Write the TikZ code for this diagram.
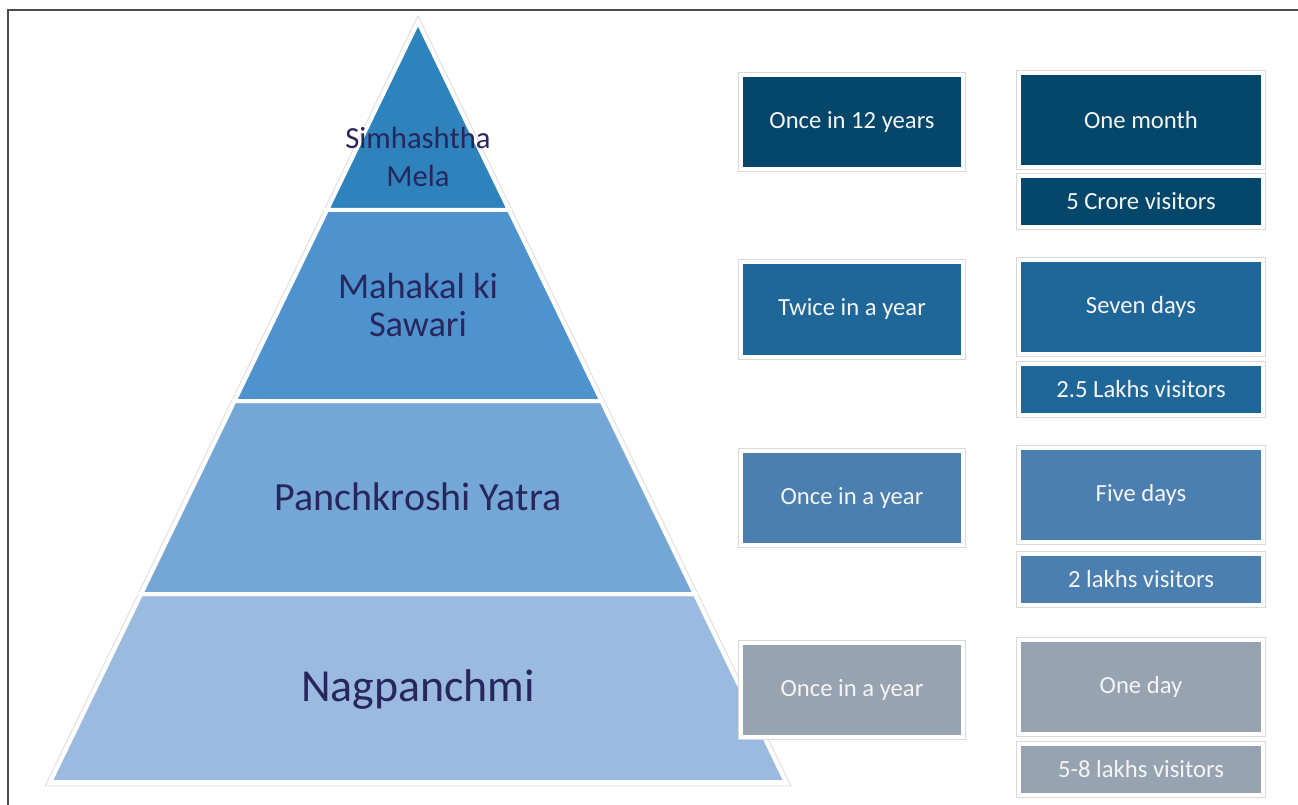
\documentclass[tikz,border=0pt]{standalone}
\usepackage{fontspec}
\setmainfont{Carlito}
\definecolor{bandone}{HTML}{2E83BD}
\definecolor{bandtwo}{HTML}{4E93CE}
\definecolor{bandthree}{HTML}{74A7D6}
\definecolor{bandfour}{HTML}{9ABBDF}
\definecolor{labelink}{HTML}{28265C}
\definecolor{rowone}{HTML}{04476A}
\definecolor{rowtwo}{HTML}{1F6699}
\definecolor{rowthree}{HTML}{4A7FAF}
\definecolor{rowfour}{HTML}{97A3B0}
\tikzset{
  band/.style = {draw=white, line width=3pt, line join=miter},
  bandlabel/.style = {text=labelink, align=center},
  infobox/.style = {
    preaction={draw=black!15, line width=4.5pt},
    draw=white, line width=3pt, text=white!96!black,
    inner sep=0pt, font=\fontsize{18.5}{22}\selectfont
  },
  freqbox/.style = {infobox, minimum width=166.5pt, minimum height=70.5pt},
  durbox/.style = {infobox, minimum width=183pt, minimum height=70.5pt},
  visbox/.style = {infobox, minimum width=183pt, minimum height=38.25pt}
}

\begin{document}
\begin{tikzpicture}[x=0.75pt,y=-0.75pt]
  \useasboundingbox (0,0) rectangle (1298,805);
  \pgfmathsetmacro{\apexx}{418};
  \pgfmathsetmacro{\apexy}{22};
  \pgfmathsetmacro{\slope}{0.484};
  \pgfmathsetmacro{\cutone}{210};
  \pgfmathsetmacro{\cuttwo}{401};
  \pgfmathsetmacro{\cutthree}{594};
  \pgfmathsetmacro{\basey}{782};
  % frame
  \draw[black!70, line width=1.1pt] (8,805) -- (8,10) -- (1298,10);
  % faint outline of the pyramid
  \draw[black!15, line width=0.6pt] (\apexx,{\apexy-6}) -- ({\apexx-\slope*(\basey-\apexy)-5},{\basey+4}) -- ({\apexx+\slope*(\basey-\apexy)+5},{\basey+4}) -- cycle;
  % pyramid bands
  \fill[bandfour, band] ({\apexx-\slope*(\cutthree-\apexy)},\cutthree) -- ({\apexx+\slope*(\cutthree-\apexy)},\cutthree) -- ({\apexx+\slope*(\basey-\apexy)},\basey) -- ({\apexx-\slope*(\basey-\apexy)},\basey) -- cycle;
  \fill[bandthree, band] ({\apexx-\slope*(\cuttwo-\apexy)},\cuttwo) -- ({\apexx+\slope*(\cuttwo-\apexy)},\cuttwo) -- ({\apexx+\slope*(\cutthree-\apexy)},\cutthree) -- ({\apexx-\slope*(\cutthree-\apexy)},\cutthree) -- cycle;
  \fill[bandtwo, band] ({\apexx-\slope*(\cutone-\apexy)},\cutone) -- ({\apexx+\slope*(\cutone-\apexy)},\cutone) -- ({\apexx+\slope*(\cuttwo-\apexy)},\cuttwo) -- ({\apexx-\slope*(\cuttwo-\apexy)},\cuttwo) -- cycle;
  \fill[bandone, band] (\apexx,\apexy) -- ({\apexx+\slope*(\cutone-\apexy)},\cutone) -- ({\apexx-\slope*(\cutone-\apexy)},\cutone) -- cycle;
  \draw[white, line width=3pt] ({\apexx-\slope*(\cutone-\apexy)-3},\cutone) -- ({\apexx+\slope*(\cutone-\apexy)+3},\cutone);
  \draw[white, line width=3pt] ({\apexx-\slope*(\cuttwo-\apexy)-3},\cuttwo) -- ({\apexx+\slope*(\cuttwo-\apexy)+3},\cuttwo);
  \draw[white, line width=3pt] ({\apexx-\slope*(\cutthree-\apexy)-3},\cutthree) -- ({\apexx+\slope*(\cutthree-\apexy)+3},\cutthree);
  \node[bandlabel, font=\fontsize{23}{28.5}\selectfont] (simha) at (\apexx,157) {Simhashtha\\Mela};
  \node[bandlabel, font=\fontsize{27.3}{28}\selectfont] (mahakal) at (\apexx,305) {Mahakal ki\\Sawari};
  \node[bandlabel, font=\fontsize{30}{34}\selectfont] (panch) at (\apexx,497) {Panchkroshi Yatra};
  \node[bandlabel, font=\fontsize{34.4}{38}\selectfont] (nag) at (\apexx,690) {Nagpanchmi};
  % how often
  \node[freqbox, fill=rowone] (freqone) at (852,122) {Once in 12 years};
  \node[freqbox, fill=rowtwo] (freqtwo) at (852,309.5) {Twice in a year};
  \node[freqbox, fill=rowthree] (freqthree) at (852,498) {Once in a year};
  \node[freqbox, fill=rowfour] (freqfour) at (852,690) {Once in a year};
  % how long
  \node[durbox, fill=rowone] (durone) at (1141,120) {One month};
  \node[durbox, fill=rowtwo] (durtwo) at (1141,307) {Seven days};
  \node[durbox, fill=rowthree] (durthree) at (1141,495) {Five days};
  \node[durbox, fill=rowfour] (durfour) at (1141,687) {One day};
  % how many
  \node[visbox, fill=rowone] (visone) at (1141,201.5) {5 Crore visitors};
  \node[visbox, fill=rowtwo] (vistwo) at (1141,389) {2.5 Lakhs visitors};
  \node[visbox, fill=rowthree] (visthree) at (1141,579.5) {2 lakhs visitors};
  \node[visbox, fill=rowfour] (visfour) at (1141,769) {5-8 lakhs visitors};
\end{tikzpicture}
\end{document}
